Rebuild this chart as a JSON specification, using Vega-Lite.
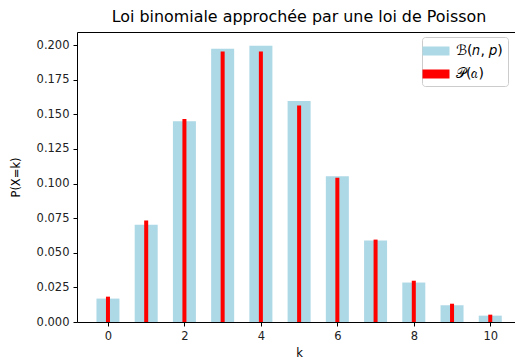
{
  "$schema": "https://vega.github.io/schema/vega-lite/v6.json",
  "autosize": {"type": "none"},
  "padding": {"left": 77, "top": 32, "right": 0, "bottom": 38},
  "width": 444,
  "height": 290,
  "title": {"text": "Loi binomiale approchée par une loi de Poisson", "font": "DejaVu Sans", "fontSize": 15.9, "fontWeight": "normal", "color": "#000", "offset": 7},
  "data": {"values": [
    {"k": 0, "binom": 0.0169, "poisson": 0.0183},
    {"k": 1, "binom": 0.0703, "poisson": 0.0733},
    {"k": 2, "binom": 0.1450, "poisson": 0.1465},
    {"k": 3, "binom": 0.1973, "poisson": 0.1954},
    {"k": 4, "binom": 0.1994, "poisson": 0.1954},
    {"k": 5, "binom": 0.1595, "poisson": 0.1563},
    {"k": 6, "binom": 0.1052, "poisson": 0.1042},
    {"k": 7, "binom": 0.0589, "poisson": 0.0595},
    {"k": 8, "binom": 0.0285, "poisson": 0.0298},
    {"k": 9, "binom": 0.0121, "poisson": 0.0132},
    {"k": 10, "binom": 0.0046, "poisson": 0.0053}
  ]},
  "encoding": {
    "x": {"field": "k", "type": "quantitative", "scale": {"domain": [-0.81, 10.804], "nice": false, "zero": false, "padding": 0},
      "axis": {"values": [0, 2, 4, 6, 8, 10], "title": "k", "titlePadding": 6}}
  },
  "layer": [
    {
      "mark": {"type": "bar", "size": 23},
      "encoding": {
        "y": {"field": "binom", "type": "quantitative", "scale": {"domain": [0, 0.2094], "nice": false},
          "axis": {"values": [0, 0.025, 0.05, 0.075, 0.1, 0.125, 0.15, 0.175, 0.2], "format": ".3f", "title": "P(X=k)", "titlePadding": 15}},
        "color": {"datum": "ℬ(𝑛, 𝑝)", "type": "nominal", "scale": {"domain": ["ℬ(𝑛, 𝑝)", "𝒫(𝑎)"], "range": ["#add8e6", "#ff0000"]},
          "legend": {"title": null, "orient": "none", "legendX": 345, "legendY": 5}}
      }
    },
    {
      "mark": {"type": "bar", "size": 4},
      "encoding": {
        "y": {"field": "poisson", "type": "quantitative",
          "axis": {"values": [0, 0.025, 0.05, 0.075, 0.1, 0.125, 0.15, 0.175, 0.2], "format": ".3f", "title": "P(X=k)", "titlePadding": 15}},
        "color": {"datum": "𝒫(𝑎)", "type": "nominal"}
      }
    }
  ],
  "config": {
    "view": {"stroke": "#000", "strokeWidth": 1},
    "axis": {"grid": false, "domain": false, "tickColor": "#000", "tickSize": 4, "labelFont": "DejaVu Sans", "labelFontSize": 11.5, "labelColor": "#222", "titleFont": "DejaVu Sans", "titleFontSize": 11.5, "titleFontWeight": "normal", "titleColor": "#000", "labelPadding": 4, "labelOverlap": false},
    "legend": {"symbolType": "M-1.5,-0.5H1.5V0.5H-1.5Z", "symbolSize": 324, "symbolStrokeWidth": 0, "labelFont": "DejaVu Sans", "labelFontSize": 14, "labelColor": "#000", "strokeColor": "#cccccc", "fillColor": "#ffffff", "cornerRadius": 3, "padding": 5, "rowPadding": 7, "labelOffset": 11}
  }
}
